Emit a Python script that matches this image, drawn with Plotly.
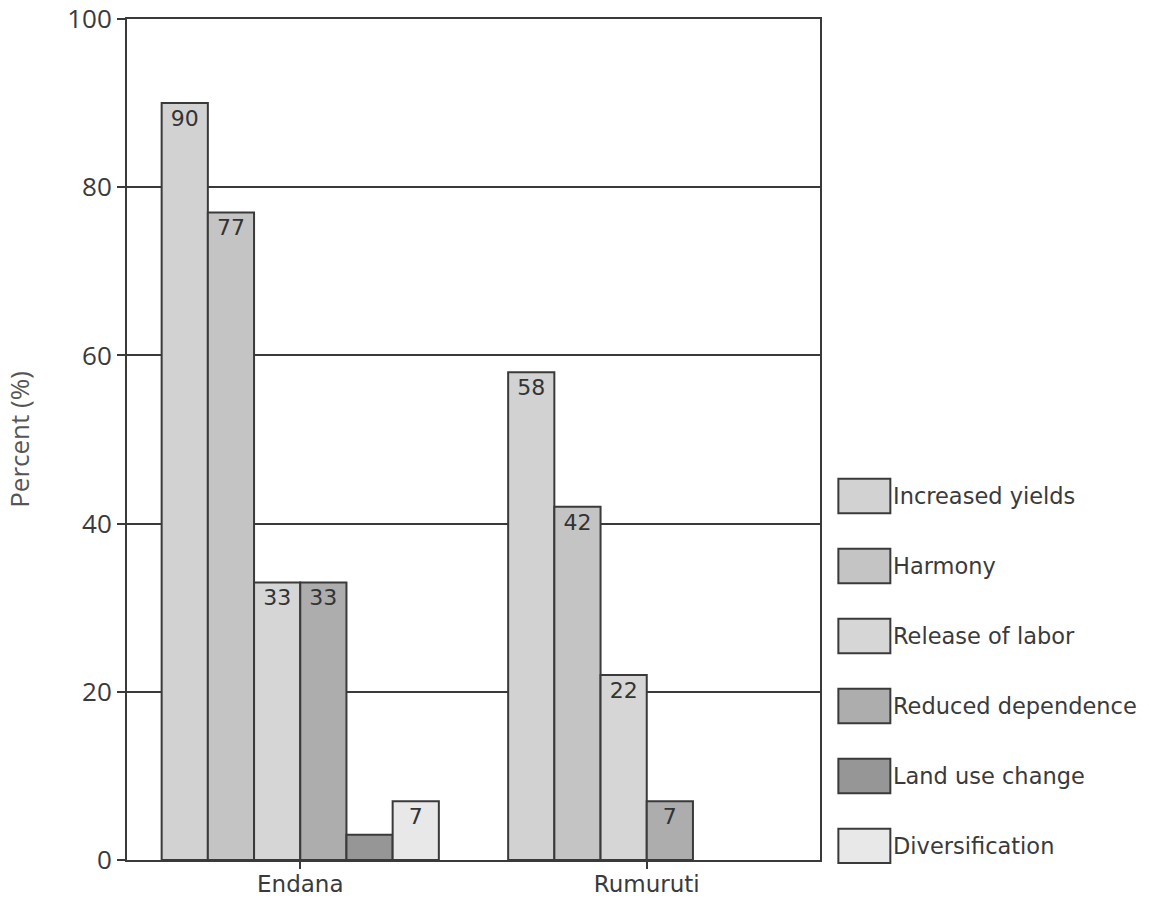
import plotly.graph_objects as go

# Survey sites and the perceived benefits reported at each
sites = ["Endana", "Rumuruti"]
benefits = ["Increased yields", "Harmony", "Release of labor",
            "Reduced dependence", "Land use change", "Diversification"]

increased_yields = [90, 58]
harmony = [77, 42]
release_of_labor = [33, 22]
reduced_dependence = [33, 7]
land_use_change = [3, None]   # not reported at Rumuruti
diversification = [7, None]   # not reported at Rumuruti

# Which bars carry a printed value
show_label = [
    [True, True],
    [True, True],
    [True, True],
    [True, True],
    [False, False],
    [True, False],
]

series = [increased_yields, harmony, release_of_labor,
          reduced_dependence, land_use_change, diversification]
fills = ["#d2d2d2", "#c4c4c4", "#d6d6d6", "#adadad", "#969696", "#e8e8e8"]
edge = "#3a3a3a"

fig = go.Figure()
for name, vals, fill, flags in zip(benefits, series, fills, show_label):
    fig.add_trace(go.Bar(
        x=sites, y=vals, name=name,
        marker=dict(color=fill, line=dict(color=edge, width=2)),
        text=[str(v) if (f and v is not None) else "" for v, f in zip(vals, flags)],
        textposition="inside", insidetextanchor="end",
        textfont=dict(family="DejaVu Sans", size=22, color="#333333"),
        showlegend=False,
    ))

# Legend drawn as large swatches with labels on the right
top_y = 0.4328
step = 0.0832
for i, (name, fill) in enumerate(zip(benefits, fills)):
    yc = top_y - i * step
    fig.add_shape(type="rect", xref="paper", yref="paper",
                  x0=1.0265, x1=1.1015, y0=yc - 0.0205, y1=yc + 0.0205,
                  fillcolor=fill, line=dict(color=edge, width=2))
    fig.add_annotation(xref="paper", yref="paper", x=1.103, y=yc,
                       text=name, showarrow=False, xanchor="left",
                       yanchor="middle",
                       font=dict(family="DejaVu Sans", size=22.5, color="#3a3a3a"))

fig.update_layout(
    width=1149, height=901,
    margin=dict(l=127, r=329, t=19, b=41, autoexpand=False),
    paper_bgcolor="white", plot_bgcolor="white",
    barmode="group", bargap=0.2, bargroupgap=0,
    font=dict(family="Open Sans", color="#3a3a3a"),
)
fig.update_xaxes(
    showline=True, linecolor=edge, linewidth=2, mirror=True,
    ticks="outside", ticklen=7, tickwidth=2, tickcolor=edge,
    ticklabelstandoff=-5,
    tickfont=dict(family="DejaVu Sans", size=23, color="#3a3a3a"),
    showgrid=False, automargin=False,
)
fig.update_yaxes(
    range=[0, 100], dtick=20,
    showline=True, linecolor=edge, linewidth=2, mirror=True,
    ticks="outside", ticklen=8, tickwidth=2, tickcolor=edge,
    tickfont=dict(family="Open Sans", size=26, color="#3a3a3a"),
    showgrid=True, gridcolor=edge, gridwidth=2,
    zeroline=False, automargin=False,
    title=dict(text="Percent (%)", standoff=30,
               font=dict(family="Open Sans", size=26, color="#555555")),
)

fig.write_html("out.html")
